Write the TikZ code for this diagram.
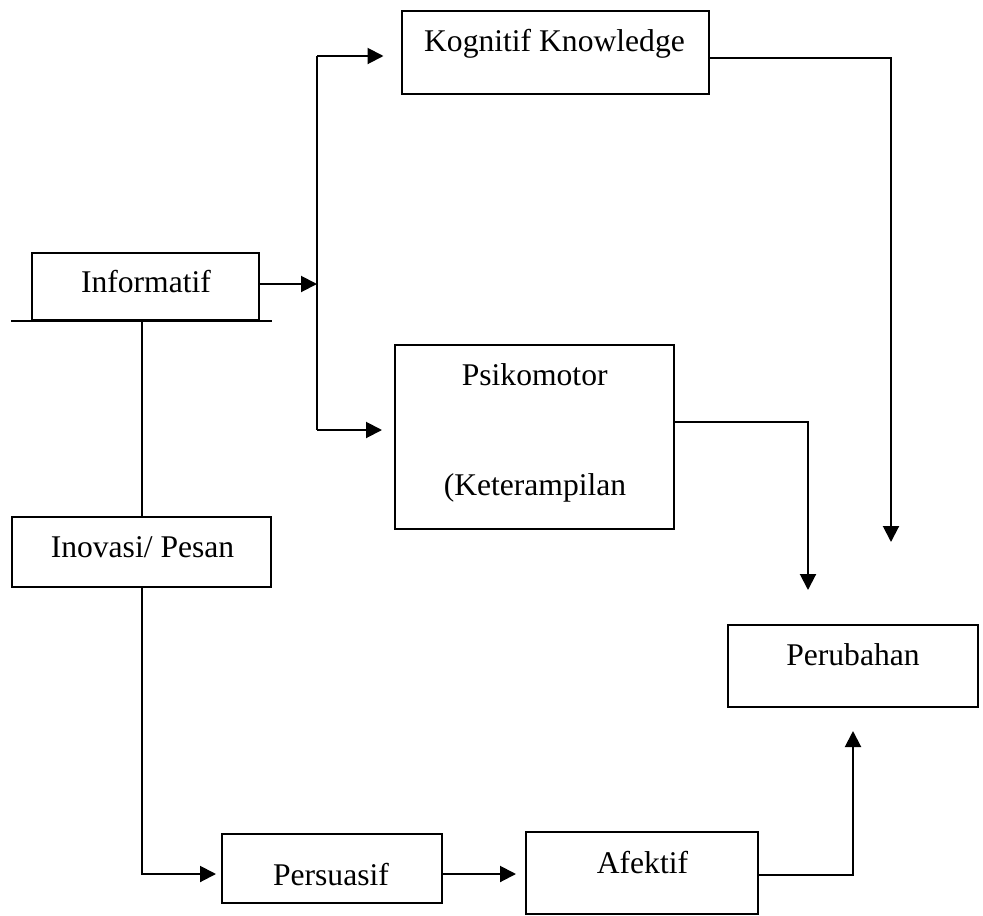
\documentclass[tikz,border=0pt]{standalone}
\usepackage{fontspec}
\setmainfont{Liberation Serif}
\usetikzlibrary{arrows.meta}
\begin{document}
\begin{tikzpicture}[x=1pt,y=-1pt,
  box/.style={draw, line width=2pt, inner sep=0pt, rectangle},
  txt/.style={font=\fontsize{31.6}{38}\selectfont, inner sep=0pt, anchor=base},
  ln/.style={line width=2pt},
  arr/.style={line width=2pt, -{Triangle[length=16pt,width=16pt]}}]
\useasboundingbox (0,0) rectangle (983,916);
% boxes
\node[box, minimum width=307.5pt, minimum height=83pt] (kog) at (555.25,52.5) {};
\node[box, minimum width=227pt, minimum height=67pt] (inf) at (145.5,286.5) {};
\node[box, minimum width=279pt, minimum height=184pt] (psi) at (534.5,437) {};
\node[box, minimum width=259pt, minimum height=70pt] (ino) at (141.5,552) {};
\node[box, minimum width=250pt, minimum height=82pt] (per) at (853,666) {};
\node[box, minimum width=220pt, minimum height=69pt] (pers) at (332,868.5) {};
\node[box, minimum width=232pt, minimum height=82pt] (afe) at (642,873) {};
% texts
\node[txt] (tkog) at (554.5,51.7) {Kognitif Knowledge};
\node[txt] (tinf) at (146,292) {Informatif};
\node[txt] (tpsi1) at (534.7,385) {Psikomotor};
\node[txt] (tpsi2) at (535,495) {(Keterampilan};
\node[txt] (tino) at (142.5,557) {Inovasi/ Pesan};
\node[txt] (tper) at (853,665) {Perubahan};
\node[txt] (tpers) at (331,885) {Persuasif};
\node[txt] (tafe) at (642.5,873) {Afektif};
% Informatif extended base line
\draw[ln] ([xshift=-20pt]inf.south west) -- ([xshift=12pt]inf.south east);
% junction bar
\coordinate (jt) at (317,56);
\coordinate (jb) at (317,430);
\draw[ln] (jt) -- (jb);
\draw[arr] ([yshift=2.5pt]inf.east) -- ([yshift=2.5pt]inf.east -| jt);
\draw[arr, shorten >=17pt] (jt) -- (jt -| kog.west);
\draw[arr, shorten >=12pt] (jb) -- (jb -| psi.west);
% Informatif to Inovasi
\draw[ln] (inf.south -| ino.north) -- (ino.north);
% Inovasi to Persuasif
\draw[arr, shorten >=5pt] (ino.south) |- ([yshift=-5.5pt]pers.west);
% Persuasif to Afektif
\draw[arr, shorten >=9pt] ([yshift=-5.5pt]pers.east) -- ([yshift=-5.5pt]pers.east -| afe.west);
% Afektif to Perubahan
\draw[arr, shorten >=23pt] ([yshift=-2pt]afe.east) -| (per.south);
% Psikomotor to Perubahan
\draw[arr, shorten >=34pt] ([yshift=15pt]psi.east) -| ([xshift=-45pt]per.north);
% Kognitif to Perubahan
\draw[arr, shorten >=82pt] ([yshift=-5.5pt]kog.east) -| ([xshift=38pt]per.north);
\end{tikzpicture}
\end{document}
